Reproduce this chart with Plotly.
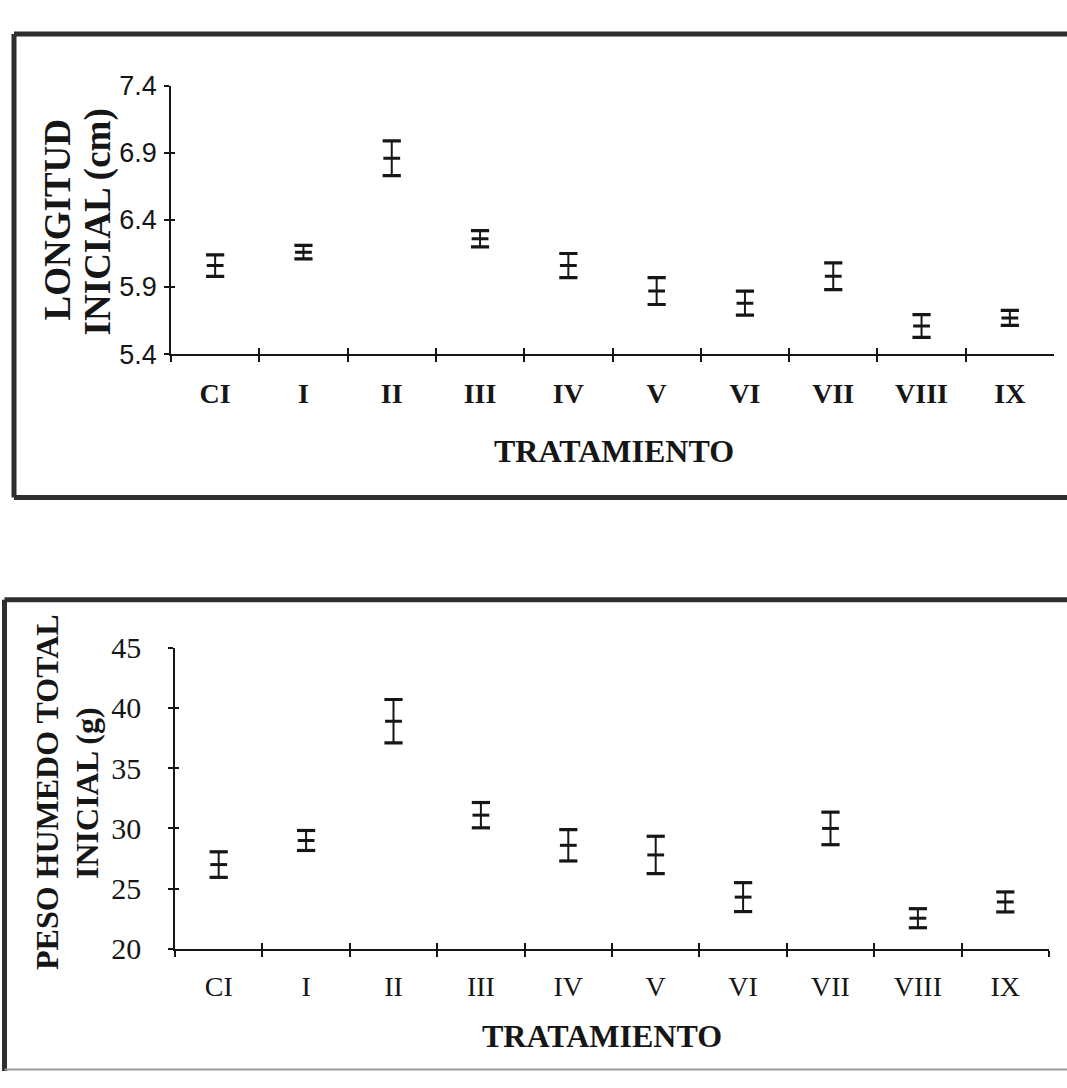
import plotly.graph_objects as go

# Treatments
tratamientos = ["CI", "I", "II", "III", "IV", "V", "VI", "VII", "VIII", "IX"]

# Initial length (cm): mean and standard error per treatment
longitud_media = [6.06, 6.16, 6.86, 6.26, 6.06, 5.87, 5.78, 5.98, 5.61, 5.67]
longitud_error = [0.08, 0.05, 0.13, 0.06, 0.09, 0.10, 0.09, 0.10, 0.085, 0.056]

# Initial total wet weight (g): mean and standard error per treatment
peso_media = [27.0, 29.0, 38.9, 31.1, 28.6, 27.8, 24.3, 30.0, 22.55, 23.9]
peso_error = [1.06, 0.83, 1.8, 1.05, 1.3, 1.55, 1.2, 1.35, 0.79, 0.83]

W, H = 1067, 1088
INK = "#161616"
SERIF = "Liberation Serif, Times New Roman, serif"
SANS = "Liberation Sans Narrow, Arial Narrow, Liberation Sans, sans-serif"


def px(x):
    return x / W


def py(y):
    return 1 - y / H


def add_err(means, errs, xa, ya):
    # vertical whisker with the mean drawn as a short dash
    fig.add_trace(go.Scatter(
        x=tratamientos, y=means, xaxis=xa, yaxis=ya, mode="markers",
        marker=dict(symbol="line-ew", size=12, line=dict(width=3, color=INK)),
        error_y=dict(type="data", array=errs, visible=True,
                     thickness=2, width=0, color=INK),
        showlegend=False, hoverinfo="skip",
    ))
    # heavy caps at mean +/- error
    caps = [m + e for m, e in zip(means, errs)] + [m - e for m, e in zip(means, errs)]
    fig.add_trace(go.Scatter(
        x=tratamientos + tratamientos, y=caps, xaxis=xa, yaxis=ya,
        mode="markers",
        marker=dict(symbol="line-ew", size=13, line=dict(width=3.2, color=INK)),
        showlegend=False, hoverinfo="skip",
    ))


fig = go.Figure()
add_err(longitud_media, longitud_error, "x", "y")
add_err(peso_media, peso_error, "x2", "y2")
# empty traces that carry the inner half of the crossing tick marks
fig.add_trace(go.Scatter(x=[], y=[], xaxis="x3", yaxis="y", showlegend=False))
fig.add_trace(go.Scatter(x=[], y=[], xaxis="x", yaxis="y3", showlegend=False))
fig.add_trace(go.Scatter(x=[], y=[], xaxis="x4", yaxis="y2", showlegend=False))
fig.add_trace(go.Scatter(x=[], y=[], xaxis="x2", yaxis="y4", showlegend=False))

top_x = [px(171), px(1054)]
top_y = [py(348), py(71)]
bot_x = [px(175), px(1049)]
bot_y = [py(962), py(651)]

cat_axis = dict(
    type="category", categoryorder="array", categoryarray=tratamientos,
    range=[-0.5, 9.5], tickson="boundaries", ticks="outside", ticklen=6,
    tickwidth=1.5, tickcolor=INK, showline=True, linecolor=INK, linewidth=1.6,
    showgrid=False, zeroline=False, fixedrange=True,
)
inner_x = dict(
    range=[-0.5, 9.5], tickmode="array",
    tickvals=[i - 0.5 for i in range(len(tratamientos) + 1)],
    ticks="inside", ticklen=6, tickwidth=1.5, tickcolor=INK,
    showticklabels=False, showline=False, showgrid=False, zeroline=False,
)
val_axis = dict(
    ticks="outside", ticklen=5, tickwidth=1.5, tickcolor=INK, showline=True,
    linecolor=INK, linewidth=1.6, showgrid=False, zeroline=False,
)
inner_y = dict(
    ticks="inside", ticklen=4, tickwidth=1.5, tickcolor=INK,
    showticklabels=False, showline=False, showgrid=False, zeroline=False,
)

fig.update_layout(
    width=W, height=H, margin=dict(l=0, r=0, t=0, b=0),
    paper_bgcolor="white", plot_bgcolor="white",
    xaxis=dict(cat_axis, domain=top_x, anchor="y", ticklabelstandoff=13,
               tickfont=dict(family=SERIF, size=28, color=INK, weight="bold")),
    yaxis=dict(val_axis, domain=top_y, anchor="x", range=[5.4, 7.4],
               tick0=5.4, dtick=0.5, tickformat=".1f", ticklabelstandoff=2,
               tickfont=dict(family=SANS, size=27, color=INK)),
    xaxis3=dict(inner_x, overlaying="x", anchor="y", domain=top_x),
    yaxis3=dict(inner_y, overlaying="y", anchor="x", domain=top_y,
                range=[5.4, 7.4], tick0=5.4, dtick=0.5),
    xaxis2=dict(cat_axis, domain=bot_x, anchor="y2", ticklabelstandoff=12,
                tickfont=dict(family=SERIF, size=28, color=INK)),
    yaxis2=dict(val_axis, domain=bot_y, anchor="x2", range=[20, 45],
                tick0=20, dtick=5, ticklabelstandoff=21,
                tickfont=dict(family=SERIF, size=30, color=INK)),
    xaxis4=dict(inner_x, overlaying="x2", anchor="y2", domain=bot_x),
    yaxis4=dict(inner_y, overlaying="y2", anchor="x2", domain=bot_y,
                range=[20, 45], tick0=20, dtick=5),
)


# Axis titles
def label(text, x, y, size, angle=0):
    fig.add_annotation(
        text=text, x=px(x), y=py(y), xref="paper", yref="paper",
        xanchor="center", yanchor="middle", showarrow=False, textangle=angle,
        font=dict(family=SERIF, size=size, color=INK, weight="bold"),
    )


label("TRATAMIENTO", 614, 448, 32)
label("LONGITUD", 57, 210, 37, -90)
label("INICIAL (cm)", 98, 212, 37, -90)
label("TRATAMIENTO", 602, 1052, 32)
label("PESO HUMEDO TOTAL", 47, 800, 32, -90)
label("INICIAL (g)", 87, 801, 32, -90)

# Frames around each panel
FRAME = "#2e2e2e"
for (x0, y0, y1) in [(14, 17.5, 496), (4.5, 601.5, None)]:
    fig.add_shape(type="line", xref="paper", yref="paper",
                  x0=px(x0), x1=1.02, y0=py(y0), y1=py(y0),
                  line=dict(color=FRAME, width=5))
    fig.add_shape(type="line", xref="paper", yref="paper",
                  x0=px(x0), x1=px(x0), y0=py(y0), y1=py(y1 if y1 else 1088),
                  line=dict(color=FRAME, width=5))
    if y1:
        fig.add_shape(type="line", xref="paper", yref="paper",
                      x0=px(x0), x1=1.02, y0=py(y1), y1=py(y1),
                      line=dict(color=FRAME, width=5))
fig.add_shape(type="line", xref="paper", yref="paper",
              x0=px(4.5), x1=1.02, y0=py(1086.5), y1=py(1086.5),
              line=dict(color="#9a9a9a", width=2))

fig.write_html("out.html")
